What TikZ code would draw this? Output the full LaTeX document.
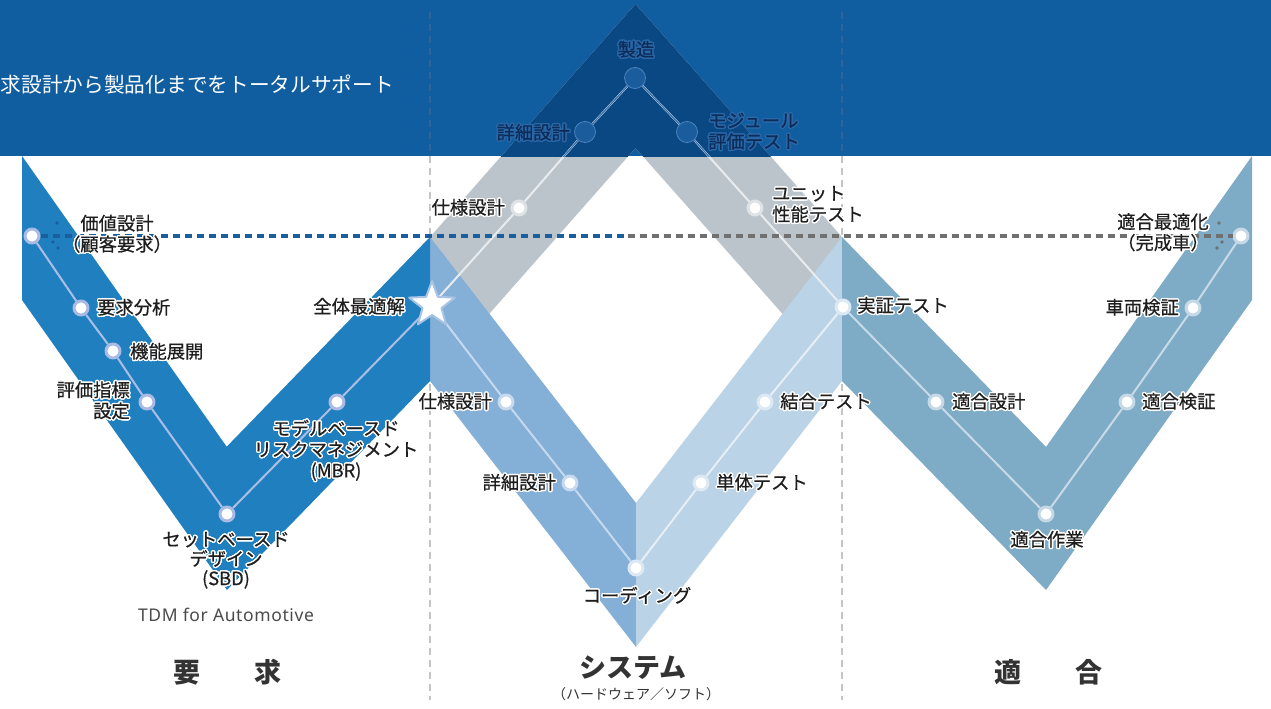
\documentclass[tikz,border=0pt]{standalone}
\usepackage{fontspec}
\usepackage[copies]{contour}
\usetikzlibrary{shapes.geometric}
\newfontfamily\jp{Noto Sans CJK JP}
\newfontfamily\jpm{Noto Sans CJK JP}[FakeBold=0.6]
\newfontfamily\latsans{Noto Sans}[LetterSpace=3.5]
\definecolor{bandblue}{HTML}{105DA0}
\definecolor{banddark}{HTML}{0A4884}
\definecolor{lvblue}{HTML}{2080BF}
\definecolor{midblue}{HTML}{84AFD6}
\definecolor{lightblue}{HTML}{BAD3E6}
\definecolor{rvblue}{HTML}{7EABC5}
\definecolor{grayL}{HTML}{BCC4CB}
\definecolor{dashblue}{HTML}{1A5E9E}
\definecolor{dashgray}{HTML}{707070}
\definecolor{vline}{HTML}{C4C4C4}
\definecolor{vlineband}{HTML}{2F6399}
\definecolor{labtext}{HTML}{1E1E1E}
\definecolor{navytext}{HTML}{0C2C5A}
\definecolor{navyhalo}{HTML}{2A67A6}
\definecolor{titletext}{HTML}{333333}
\definecolor{tdmtext}{HTML}{4A4A4A}
\definecolor{ringL}{HTML}{A9BAE4}
\definecolor{ringM}{HTML}{C6D9EF}
\definecolor{ringS}{HTML}{DCE8F3}
\definecolor{ringR}{HTML}{C4D8E6}
\definecolor{ringG}{HTML}{DDE2E7}
\definecolor{lineL}{HTML}{ADBEE6}
\definecolor{lineM}{HTML}{C5D9EE}
\definecolor{lineS}{HTML}{E6EEF6}
\definecolor{lineR}{HTML}{C8DAE8}
\definecolor{lineG}{HTML}{E8ECEF}
\definecolor{lineB}{HTML}{3A74B0}
\definecolor{bandnode}{HTML}{1A5C9C}
\definecolor{bandnodeedge}{HTML}{4A82BE}
\definecolor{starline}{HTML}{A8C4E4}
\contourlength{1.4pt}
\newcommand{\hwt}[1]{\contour{white}{#1}}
\newcommand{\hbt}[1]{\contour{navyhalo}{#1}}
\pgfdeclarelayer{bg}
\pgfsetlayers{bg,main}
\begin{document}
\begin{tikzpicture}[x=1pt,y=-1pt,line join=round,
  lbl/.style={font=\jpm\fontsize{18.3}{21}\selectfont, text=labtext, inner sep=0pt, align=center},
  blbl/.style={lbl, text=navytext},
  ttl/.style={font=\jp\bfseries\fontsize{27}{30}\selectfont, text=titletext, inner sep=0pt},
  subttl/.style={font=\jp\fontsize{14}{16}\selectfont, text=titletext, inner sep=0pt},
  tdm/.style={font=\latsans\fontsize{17.5}{20}\selectfont, text=tdmtext, inner sep=0pt},
  toptext/.style={font=\jp\fontsize{20.7}{24}\selectfont, text=white, inner sep=0pt},
  nd/.style={circle, fill=white, draw=#1, line width=3pt, minimum size=14pt, inner sep=0pt},
  bnd/.style={circle, fill=bandnode, draw=bandnodeedge, line width=0.8pt, minimum size=21pt, inner sep=0pt},
  conn/.style={line width=2pt, draw=#1},
  hdash/.style={line width=4pt, dash pattern=on 7pt off 5pt, draw=#1},
  vdash/.style={line width=1.4pt, dash pattern=on 7pt off 5pt, draw=#1}]
\useasboundingbox (0,0) rectangle (1271,709);

% ---------- nodes (main layer)
\node[nd=ringL] (v1) at (32,236) {};
\node[nd=ringL] (v2) at (81,308) {};
\node[nd=ringL] (v3) at (113,351) {};
\node[nd=ringL] (v4) at (147,402) {};
\node[nd=ringL] (v5) at (227,514) {};
\node[nd=ringL] (v6) at (337,402) {};
\node[star, star points=5, star point ratio=2.4, minimum size=48pt, inner sep=0pt,
      fill=white, draw=starline, line width=2pt] (star) at (432,305) {};
\node[nd=ringM] (m1) at (506,402) {};
\node[nd=ringM] (m2) at (570,483) {};
\node[nd=ringS] (m3) at (636,568) {};
\node[nd=ringS] (m4) at (701,483) {};
\node[nd=ringS] (m5) at (765,402) {};
\node[nd=ringS] (j) at (843,307) {};
\node[nd=ringR] (r1) at (936,402) {};
\node[nd=ringR] (r2) at (1046,514) {};
\node[nd=ringR] (r3) at (1127,402) {};
\node[nd=ringR] (r4) at (1193,308) {};
\node[nd=ringR] (r5) at (1241,236) {};
\node[nd=ringG] (g1) at (519,208) {};
\node[bnd] (g2) at (585,132) {};
\node[bnd] (g3) at (635,78) {};
\node[bnd] (g4) at (687,132) {};
\node[nd=ringG] (g5) at (755,208) {};

\coordinate (va1) at (430,12);  \coordinate (va2) at (430,156); \coordinate (va3) at (430,700);
\coordinate (vb1) at (842,12);  \coordinate (vb2) at (842,156); \coordinate (vb3) at (842,700);
\coordinate (hmid) at (628,236);

% ---------- background shapes and connectors
\begin{pgfonlayer}{bg}
  \fill[bandblue] (0,0) rectangle (1271,156);
  \draw[vdash=vlineband] (va1) -- (va2);
  \draw[vdash=vline] (va2) -- (va3);
  \draw[vdash=vlineband] (vb1) -- (vb2);
  \draw[vdash=vline] (vb2) -- (vb3);
  % gray inverted V
  \fill[grayL] (430,237) -- (635.5,4) -- (842,237) -- (842,381) -- (635.5,148) -- (430,381) -- cycle;
  \begin{scope}
    \clip (0,0) rectangle (1271,156);
    \fill[banddark] (430,237) -- (635.5,4) -- (842,237) -- (842,381) -- (635.5,148) -- (430,381) -- cycle;
  \end{scope}
  % middle V
  \fill[midblue] (430,237) -- (636,503) -- (636,647) -- (430,381) -- cycle;
  \fill[lightblue] (636,503) -- (842,237) -- (842,381) -- (636,647) -- cycle;
  % left V
  \fill[lvblue] (22,156) -- (226.7,446.7) -- (430,237) -- (430,381) -- (227,590) -- (22,300) -- cycle;
  % right V
  \fill[rvblue] (842,237) -- (1046,447) -- (1252,156) -- (1252,300) -- (1046,590) -- (842,381) -- cycle;
  % connectors
  \draw[conn=lineL] (v1) -- (v2) -- (v3) -- (v4) -- (v5) -- (v6) -- (star.center);
  \draw[conn=lineM] (star.center) -- (m1) -- (m2) -- (m3);
  \draw[conn=lineS] (m3) -- (m4) -- (m5) -- (j);
  \draw[conn=lineR] (j) -- (r1) -- (r2) -- (r3) -- (r4) -- (r5);
  \draw[conn=lineG] (star.center) -- (g1) -- (g2) -- (g3) -- (g4) -- (g5) -- (j);
  \begin{scope}
    \clip (0,0) rectangle (1271,156);
    \draw[line width=1.3pt, draw=lineB] (g1) -- (g2) -- (g3) -- (g4) -- (g5);
  \end{scope}
\end{pgfonlayer}

% ---------- dotted horizontal line and small dots
\draw[hdash=dashblue] (v1) -- (hmid);
\draw[hdash=dashgray] (hmid) -- (r5);
\fill[dashblue] (57,223) circle (1.8);
\fill[dashblue] (53,242) circle (1.8);
\fill[dashblue] (58,248) circle (1.8);
\fill[dashgray] (1219,223) circle (1.8);
\fill[dashgray] (1222,242) circle (1.8);
\fill[dashgray] (1217,248) circle (1.8);

% ---------- labels
\node[toptext, anchor=west] (toplabel) at (0.5,85) {求設計から製品化までをトータルサポート};

\node[lbl] (lv1) at (117,234.5) {\hwt{価値設計}\\\hwt{（顧客要求）}};
\node[lbl, anchor=west] (lv2) at (97,308) {\hwt{要求分析}};
\node[lbl, anchor=west] (lv3) at (130,352) {\hwt{機能展開}};
\node[lbl, anchor=east, align=right] (lv4) at (130,401) {\hwt{評価指標}\\\hwt{設定}};
\node[lbl] (lv6) at (336,451) {\hwt{モデルベースド}\\\hwt{リスクマネジメント}\\\hwt{(MBR)}};
\node[lbl, font=\jpm\fontsize{18.3}{19.5}\selectfont] (lv5) at (226,561) {\hwt{セットベースド}\\\hwt{デザイン}\\\hwt{(SBD)}};
\node[lbl, anchor=east] (lstar) at (405,307) {\hwt{全体最適解}};

\node[lbl, anchor=east] (lm1) at (492,402) {\hwt{仕様設計}};
\node[lbl, anchor=east] (lm2) at (556,483) {\hwt{詳細設計}};
\node[lbl] (lm3) at (637,596) {\hwt{コーディング}};
\node[lbl, anchor=west] (lm4) at (716,483) {\hwt{単体テスト}};
\node[lbl, anchor=west] (lm5) at (780,402) {\hwt{結合テスト}};
\node[lbl, anchor=west] (lj) at (857,306) {\hwt{実証テスト}};

\node[lbl, anchor=west] (lr1) at (952,402) {\hwt{適合設計}};
\node[lbl] (lr2) at (1047,540) {\hwt{適合作業}};
\node[lbl, anchor=west] (lr3) at (1142,402) {\hwt{適合検証}};
\node[lbl, anchor=east] (lr4) at (1179,308) {\hwt{車両検証}};
\node[lbl] (lr5) at (1163,233) {\hwt{適合最適化}\\\hwt{（完成車）}};

\node[lbl, anchor=east] (lg1) at (505,208) {\hwt{仕様設計}};
\node[blbl, anchor=east] (lg2) at (570,133) {\hbt{詳細設計}};
\node[blbl] (lg3) at (636,50) {\hbt{製造}};
\node[blbl, anchor=west, align=left] (lg4) at (708,132) {\hbt{モジュール}\\\hbt{評価テスト}};
\node[lbl, anchor=west, align=left] (lg5) at (772,205) {\hwt{ユニット}\\\hwt{性能テスト}};

\node[tdm] (tdm) at (226,615) {TDM for Automotive};
\node[ttl] (t1) at (227,672) {要　　求};
\node[ttl] (t2) at (633,668) {システム};
\node[subttl] (t2s) at (636,694) {（ハードウェア／ソフト）};
\node[ttl] (t3) at (1048,672) {適　　合};
\end{tikzpicture}
\end{document}
